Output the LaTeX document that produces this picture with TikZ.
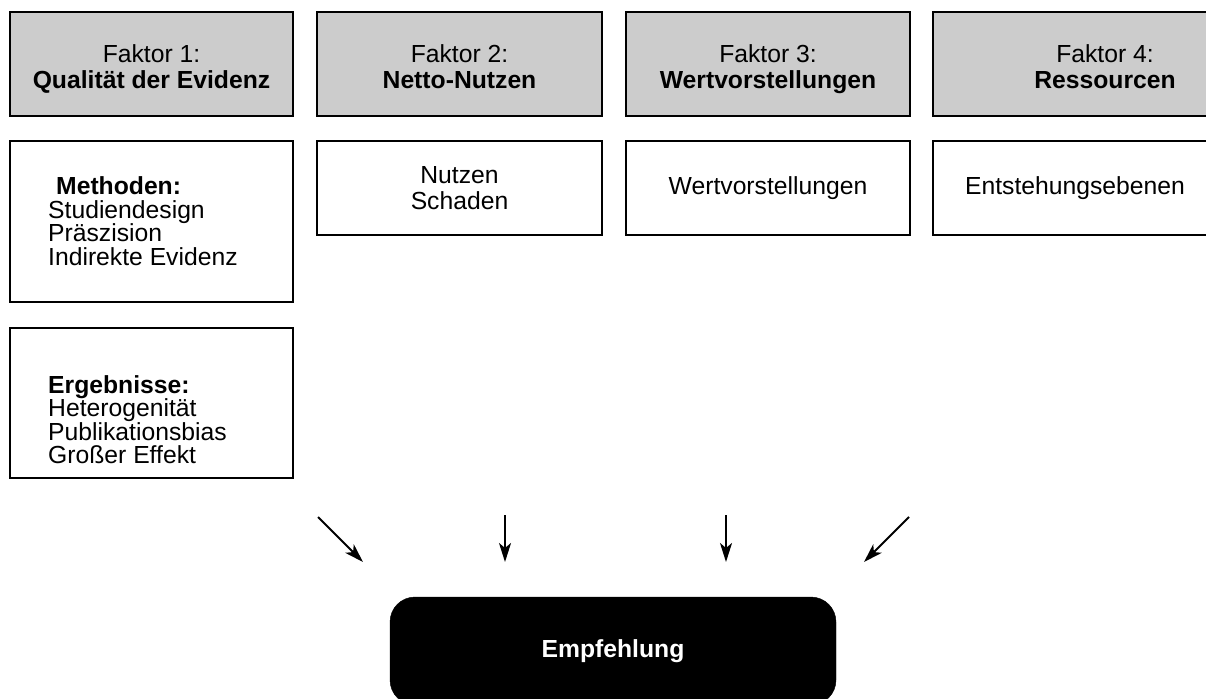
\documentclass[tikz,border=0pt]{standalone}
\usepackage{fontspec}
\setmainfont{Liberation Sans}
\usetikzlibrary{arrows.meta}
\definecolor{hdrgray}{RGB}{204,204,204}
\newcommand{\hdrtext}[2]{\rule{0pt}{28pt}#1\\\textbf{#2}\vphantom{g}}
\begin{document}
\begin{tikzpicture}[x=1pt,y=-1pt,
  box/.style={draw=black,line width=2pt,rectangle,inner sep=0pt,align=center,
    font=\fontsize{24.7}{25.5}\selectfont},
  hdr/.style={box,fill=hdrgray},
  txt/.style={inner sep=0pt,align=left,anchor=north west,
    font=\fontsize{24.7}{23.5}\selectfont},
  arr/.style={line width=2pt,-{Stealth[length=19pt,width=12pt,inset=5pt]}}]
\useasboundingbox (0,0) rectangle (1206,698);
\clip (0,0) rectangle (1206,698);

% header row
\node[hdr,minimum width=283pt,minimum height=104pt] (h1) at (151.5,64) {\hdrtext{Faktor 1:}{Qualität der Evidenz}};
\node[hdr,minimum width=285pt,minimum height=104pt] (h2) at (459.5,64) {\hdrtext{Faktor 2:}{Netto-Nutzen}};
\node[hdr,minimum width=284pt,minimum height=104pt] (h3) at (768,64) {\hdrtext{Faktor 3:}{Wertvorstellungen}};
\node[hdr,minimum width=344pt,minimum height=104pt] (h4) at (1105,64) {\hdrtext{Faktor 4:}{Ressourcen}};

% second row
\node[box,minimum width=283pt,minimum height=161pt] (m1) at (151.5,221.5) {};
\node[txt] (m1t) at (48,176.5) {\hspace*{8pt}\textbf{Methoden:}\\Studiendesign\\Präszision\\Indirekte Evidenz};
\node[box,minimum width=285pt,minimum height=94pt] (m2) at (459.5,188) {Nutzen\\Schaden};
\node[box,minimum width=284pt,minimum height=94pt] (m3) at (768,188) {Wertvorstellungen};
\node[box,minimum width=284pt,minimum height=94pt] (m4) at (1075,188) {Entstehungsebenen};

% third row
\node[box,minimum width=283pt,minimum height=150pt] (e1) at (151.5,403) {};
\node[txt] (e1t) at (48,375) {\textbf{Ergebnisse:}\\Heterogenität\\Publikationsbias\\Großer Effekt};

% recommendation
\node[draw=black,fill=black,rounded corners=25pt,minimum width=446pt,minimum height=108pt,
  inner sep=0pt,text=white,font=\fontsize{24.7}{25.5}\selectfont\bfseries] (rec) at (613,651) {Empfehlung};

% arrows
\coordinate (a1s) at (318,517); \coordinate (a1e) at (363,562);
\coordinate (a2s) at (505,515); \coordinate (a2e) at (505,562);
\coordinate (a3s) at (726,515); \coordinate (a3e) at (726,562);
\coordinate (a4s) at (909,517); \coordinate (a4e) at (864,562);
\draw[arr] (a1s) -- (a1e);
\draw[arr] (a2s) -- (a2e);
\draw[arr] (a3s) -- (a3e);
\draw[arr] (a4s) -- (a4e);
\end{tikzpicture}
\end{document}
